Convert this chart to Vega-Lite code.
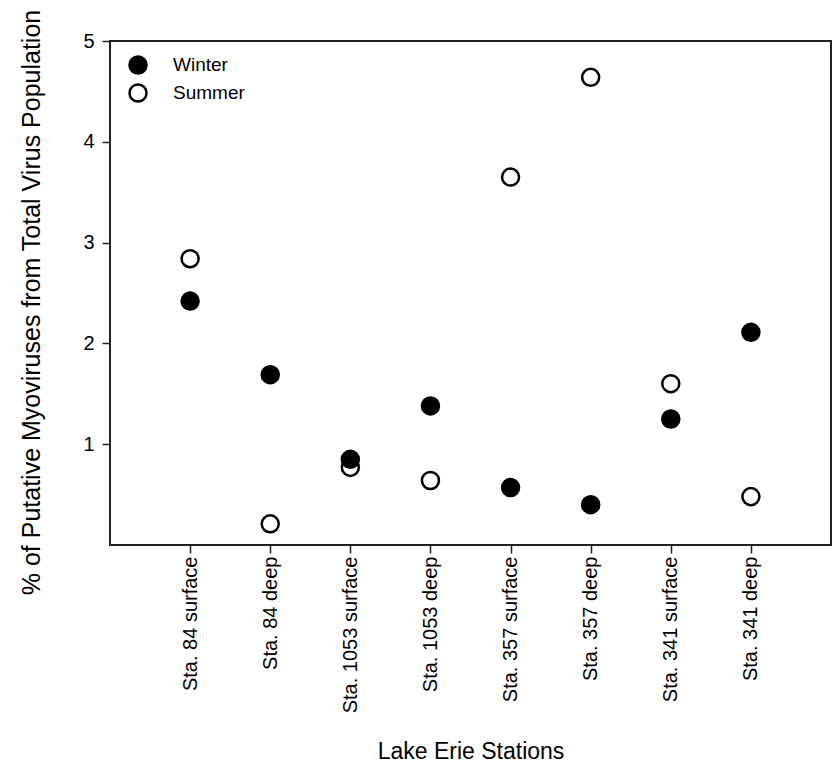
{
  "$schema": "https://vega.github.io/schema/vega-lite/v6.json",
  "width": 721,
  "height": 504,
  "autosize": {"type": "none"},
  "padding": {"left": 110, "top": 41, "right": 2, "bottom": 221},
  "background": "white",
  "config": {
    "font": "Liberation Sans",
    "view": {"stroke": "#222222", "strokeWidth": 2},
    "axis": {
      "grid": false,
      "domain": false,
      "tickColor": "#222222",
      "tickWidth": 1.5,
      "tickSize": 8,
      "labelColor": "black",
      "titleColor": "black",
      "labelFont": "Liberation Sans",
      "titleFont": "Liberation Sans",
      "titleFontWeight": "normal"
    }
  },
  "data": {
    "values": [
      {"station": "Sta. 84 surface", "season": "Winter", "pct": 2.42},
      {"station": "Sta. 84 deep", "season": "Winter", "pct": 1.69},
      {"station": "Sta. 1053 surface", "season": "Winter", "pct": 0.85},
      {"station": "Sta. 1053 deep", "season": "Winter", "pct": 1.38},
      {"station": "Sta. 357 surface", "season": "Winter", "pct": 0.57},
      {"station": "Sta. 357 deep", "season": "Winter", "pct": 0.40},
      {"station": "Sta. 341 surface", "season": "Winter", "pct": 1.25},
      {"station": "Sta. 341 deep", "season": "Winter", "pct": 2.11},
      {"station": "Sta. 84 surface", "season": "Summer", "pct": 2.84},
      {"station": "Sta. 84 deep", "season": "Summer", "pct": 0.21},
      {"station": "Sta. 1053 surface", "season": "Summer", "pct": 0.77},
      {"station": "Sta. 1053 deep", "season": "Summer", "pct": 0.64},
      {"station": "Sta. 357 surface", "season": "Summer", "pct": 3.65},
      {"station": "Sta. 357 deep", "season": "Summer", "pct": 4.64},
      {"station": "Sta. 341 surface", "season": "Summer", "pct": 1.60},
      {"station": "Sta. 341 deep", "season": "Summer", "pct": 0.48}
    ]
  },
  "mark": {"type": "point", "shape": "circle", "size": 290, "strokeWidth": 2.5, "opacity": 1},
  "encoding": {
    "x": {
      "field": "station",
      "type": "nominal",
      "sort": null,
      "scale": {"type": "point", "padding": 1},
      "axis": {
        "title": "Lake Erie Stations",
        "titleFontSize": 23,
        "titlePadding": 28,
        "labelAngle": -90,
        "labelFontSize": 20,
        "labelPadding": 3,
        "labelAlign": "right",
        "labelBaseline": "middle"
      }
    },
    "y": {
      "field": "pct",
      "type": "quantitative",
      "scale": {"domain": [0, 5], "nice": false, "zero": false},
      "axis": {
        "title": "% of Putative Myoviruses  from Total Virus Population",
        "titleFontSize": 25,
        "titlePadding": 38,
        "titleY": 261,
        "values": [1, 2, 3, 4, 5],
        "labelFontSize": 20,
        "labelPadding": 8
      }
    },
    "fill": {
      "field": "season",
      "type": "nominal",
      "scale": {"domain": ["Winter", "Summer"], "range": ["black", "white"]},
      "legend": {
        "title": null,
        "orient": "none",
        "legendX": 18,
        "legendY": 14,
        "symbolType": "circle",
        "symbolSize": 290,
        "symbolStrokeColor": "black",
        "symbolStrokeWidth": 2.5,
        "labelFontSize": 19,
        "labelColor": "black",
        "labelOffset": 25,
        "rowPadding": 0
      }
    },
    "stroke": {"value": "black"},
    "order": {"field": "season", "sort": "ascending"}
  }
}
